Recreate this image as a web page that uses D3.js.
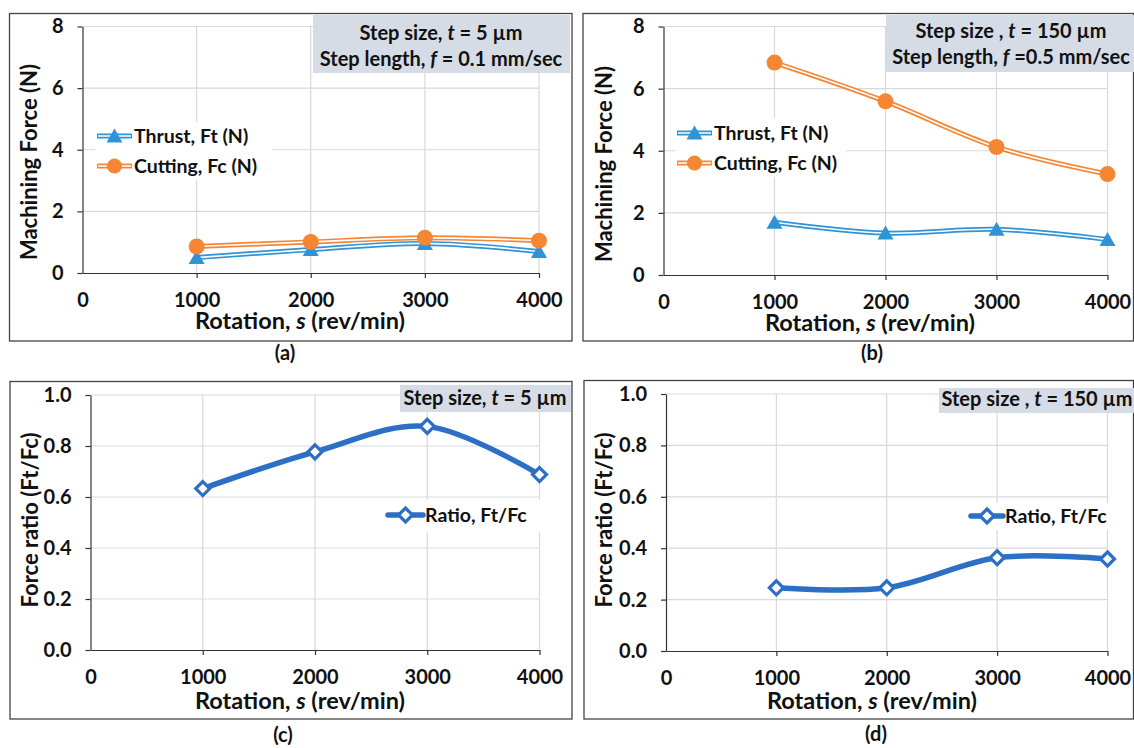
<!DOCTYPE html>
<html>
<head>
<meta charset="utf-8">
<title>Machining force and force ratio vs rotation</title>
<style>
  body { margin: 0; padding: 0; background: #fff; }
  svg text { font-family: Lato, "Open Sans", sans-serif; font-weight: bold; fill: #111; }
</style>
</head>
<body>
<svg width="1134" height="748"></svg>
<script src="https://d3js.org/d3.v7.min.js"></script>
<script>

// data
var rotation = [1000, 2000, 3000, 4000]
var xTicks = [0, 1000, 2000, 3000, 4000]
var forceTicks = [0, 2, 4, 6, 8]
var ratioTicks = [0, 0.2, 0.4, 0.6, 0.8, 1.0]

var thrustA = [0.50, 0.76, 0.96, 0.70]
var cuttingA = [0.86, 1.01, 1.14, 1.05]
var thrustB = [1.70, 1.35, 1.47, 1.14]
var cuttingB = [6.84, 5.59, 4.12, 3.25]
var ratioC = [0.633, 0.777, 0.877, 0.688]
var ratioD = [0.246, 0.246, 0.363, 0.358]

var thrustColor = "#2f93d5"
var cuttingColor = "#f58634"
var ratioColor = "#2d6fc4"
var boxFill = "#d6dce5"

var svg = d3.select("svg")

var triangle = "M0,-7.5L8,6.5L-8,6.5Z"
var diamond = "M0,-7L7,0L0,7L-7,0Z"

function rich(sel, parts) {
  parts.forEach(p => {
    sel.append("tspan").text(p[0]).style("font-style", p[1] ? "italic" : "normal")
  })
}

function drawPanel(p) {
  var g = svg.append("g")

  g.append("rect")
    .attr("x", p.frame[0]).attr("y", p.frame[1])
    .attr("width", p.frame[2] - p.frame[0]).attr("height", p.frame[3] - p.frame[1])
    .attr("fill", "none").attr("stroke", "#444").attr("stroke-width", 1.3)

  var x = d3.scaleLinear().domain([0, 4000]).range([p.x0, p.x4])
  var y = d3.scaleLinear().domain([0, p.yTicks[p.yTicks.length - 1]]).range([p.y0, p.yTop])

  // grid
  g.selectAll("line.vgrid").data(xTicks.slice(1)).enter().append("line")
    .attr("x1", d => x(d)).attr("x2", d => x(d))
    .attr("y1", y.range()[0]).attr("y2", y.range()[1])
    .attr("stroke", "#d9d9d9").attr("stroke-width", 1.2)
  g.selectAll("line.hgrid").data(p.yTicks.slice(1)).enter().append("line")
    .attr("x1", x(0)).attr("x2", x(4000))
    .attr("y1", d => y(d)).attr("y2", d => y(d))
    .attr("stroke", "#d9d9d9").attr("stroke-width", 1.2)

  var xAxis = g.append("g").attr("transform", "translate(0," + p.y0 + ")")
    .call(d3.axisBottom(x).tickValues(xTicks).tickSize(5).tickSizeOuter(0).tickPadding(15).tickFormat(d3.format("d")))
  var yAxis = g.append("g").attr("transform", "translate(" + p.x0 + ",0)")
    .call(d3.axisLeft(y).tickValues(p.yTicks).tickSize(5).tickSizeOuter(0).tickPadding(14).tickFormat(p.fmt))
  ;[xAxis, yAxis].forEach(a => {
    a.selectAll("path, line").attr("stroke", "#333").attr("stroke-width", 1.2)
    a.selectAll("text").style("font-size", "20px").attr("fill", "#111")
      .style("font-family", "Lato, sans-serif").style("font-weight", "bold")
  })
  xAxis.select(".tick line").remove()

  // info box
  g.append("rect")
    .attr("x", p.box[0]).attr("y", p.box[1])
    .attr("width", p.box[2] - p.box[0]).attr("height", p.box[3] - p.box[1])
    .attr("fill", boxFill)
  p.boxText.forEach((line, i) => {
    var t = g.append("text").attr("x", p.boxCx).attr("y", p.boxBase[i])
      .attr("text-anchor", "middle").style("font-size", "20px")
    rich(t, line)
  })

  // legend
  g.append("rect")
    .attr("x", p.legBg[0]).attr("y", p.legBg[1])
    .attr("width", p.legBg[2] - p.legBg[0]).attr("height", p.legBg[3] - p.legBg[1])
    .attr("fill", "#fff")

  var line = d3.line().x((d, i) => x(rotation[i])).y(d => y(d)).curve(d3.curveCardinal.tension(0))

  p.series.forEach((s, k) => {
    var ly = p.legY[k]
    var lx0 = p.legX[0], lx1 = p.legX[1]
    if (s.kind === "double") {
      g.append("path").attr("d", line(s.values)).attr("fill", "none")
        .attr("stroke", s.color).attr("stroke-width", 5)
      g.append("path").attr("d", line(s.values)).attr("fill", "none")
        .attr("stroke", "#fff").attr("stroke-width", 1.6)
      if (s.marker === "circle") {
        g.selectAll(null).data(s.values).enter().append("circle")
          .attr("cx", (d, i) => x(rotation[i])).attr("cy", d => y(d)).attr("r", 8)
          .attr("fill", s.color)
      } else {
        g.selectAll(null).data(s.values).enter().append("path")
          .attr("transform", (d, i) => "translate(" + x(rotation[i]) + "," + y(d) + ")")
          .attr("d", triangle).attr("fill", s.color)
      }
      // legend entry
      g.append("line").attr("x1", lx0).attr("x2", lx1).attr("y1", ly).attr("y2", ly)
        .attr("stroke", s.color).attr("stroke-width", 5)
      g.append("line").attr("x1", lx0 + 1).attr("x2", lx1 - 1).attr("y1", ly).attr("y2", ly)
        .attr("stroke", "#fff").attr("stroke-width", 1.6)
      if (s.marker === "circle") {
        g.append("circle").attr("cx", (lx0 + lx1) / 2).attr("cy", ly).attr("r", 7.5).attr("fill", s.color)
      } else {
        g.append("path").attr("d", triangle).attr("fill", s.color)
          .attr("transform", "translate(" + (lx0 + lx1) / 2 + "," + ly + ")")
      }
    } else {
      g.append("path").attr("d", line(s.values)).attr("fill", "none")
        .attr("stroke", s.color).attr("stroke-width", 5.5).attr("stroke-linecap", "round")
      g.selectAll(null).data(s.values).enter().append("path")
        .attr("transform", (d, i) => "translate(" + x(rotation[i]) + "," + y(d) + ")")
        .attr("d", diamond).attr("fill", "#fff").attr("stroke", s.color).attr("stroke-width", 3.2)
      g.append("line").attr("x1", lx0).attr("x2", lx1).attr("y1", ly).attr("y2", ly)
        .attr("stroke", s.color).attr("stroke-width", 5.5).attr("stroke-linecap", "round")
      g.append("path").attr("d", diamond).attr("fill", "#fff").attr("stroke", s.color).attr("stroke-width", 3.2)
        .attr("transform", "translate(" + (lx0 + lx1) / 2 + "," + ly + ")")
    }
    g.append("text").attr("x", lx1 + 2).attr("y", ly + 6.5).style("font-size", "19.5px").text(s.name)
  })

  // axis titles
  var xt = g.append("text").attr("x", p.xTitle[0]).attr("y", p.xTitle[1])
    .attr("text-anchor", "middle").style("font-size", "23.5px")
  rich(xt, [["Rotation, ", false], ["s", true], [" (rev/min)", false]])

  g.append("text")
    .attr("transform", "translate(" + p.yTitle[0] + "," + p.yTitle[1] + ") rotate(-90)")
    .attr("text-anchor", "middle").style("font-size", "22px").text(p.yLabel)

  g.append("text").attr("x", p.tag[0]).attr("y", p.tag[1])
    .attr("text-anchor", "middle").style("font-size", "20px").text(p.tagText)
}

drawPanel({
  frame: [9.5, 13.5, 572, 341], x0: 82.5, x4: 539, y0: 273, yTop: 26.5,
  yTicks: forceTicks, fmt: d3.format("d"), yLabel: "Machining Force (N)",
  box: [313, 15, 570, 73], boxCx: 441, boxBase: [40, 66],
  boxText: [[["Step size, ", false], ["t", true], [" = 5 µm", false]],
            [["Step length, ", false], ["f", true], [" = 0.1 mm/sec", false]]],
  legBg: [95, 122, 272, 180], legX: [97, 132], legY: [136, 166],
  series: [
    {name: "Thrust, Ft (N)", values: thrustA, color: thrustColor, kind: "double", marker: "triangle"},
    {name: "Cutting, Fc (N)", values: cuttingA, color: cuttingColor, kind: "double", marker: "circle"}
  ],
  xTitle: [300, 329], yTitle: [37, 162], tag: [285, 360], tagText: "(a)"
})

drawPanel({
  frame: [583, 13.5, 1133.5, 341], x0: 663.5, x4: 1107.5, y0: 275, yTop: 26.5,
  yTicks: forceTicks, fmt: d3.format("d"), yLabel: "Machining Force (N)",
  box: [886, 15, 1134, 72], boxCx: 1011, boxBase: [38, 64],
  boxText: [[["Step size , ", false], ["t", true], [" = 150 µm", false]],
            [["Step length, ", false], ["f", true], [" =0.5 mm/sec", false]]],
  legBg: [675, 118, 846, 177], legX: [677, 712], legY: [133, 163],
  series: [
    {name: "Thrust, Ft (N)", values: thrustB, color: thrustColor, kind: "double", marker: "triangle"},
    {name: "Cutting, Fc (N)", values: cuttingB, color: cuttingColor, kind: "double", marker: "circle"}
  ],
  xTitle: [870, 331], yTitle: [612, 164], tag: [872, 360], tagText: "(b)"
})

drawPanel({
  frame: [10, 381.5, 572, 719], x0: 90.5, x4: 539.5, y0: 650, yTop: 395,
  yTicks: ratioTicks, fmt: d3.format(".1f"), yLabel: "Force ratio (Ft/Fc)",
  box: [400, 385, 571, 412], boxCx: 485, boxBase: [405],
  boxText: [[["Step size, ", false], ["t", true], [" = 5 µm", false]]],
  legBg: [385, 500, 545, 532], legX: [388, 423], legY: [515],
  series: [
    {name: "Ratio, Ft/Fc", values: ratioC, color: ratioColor, kind: "single"}
  ],
  xTitle: [300, 709], yTitle: [38, 520], tag: [283, 742], tagText: "(c)"
})

drawPanel({
  frame: [584, 380.5, 1133.5, 719], x0: 666, x4: 1107.5, y0: 651, yTop: 394,
  yTicks: ratioTicks, fmt: d3.format(".1f"), yLabel: "Force ratio (Ft/Fc)",
  box: [939, 388, 1134, 413], boxCx: 1037, boxBase: [406],
  boxText: [[["Step size , ", false], ["t", true], [" = 150 µm", false]]],
  legBg: [968, 503, 1110, 530], legX: [971, 1003], legY: [516],
  series: [
    {name: "Ratio, Ft/Fc", values: ratioD, color: ratioColor, kind: "single"}
  ],
  xTitle: [872, 709], yTitle: [612, 520], tag: [876, 741], tagText: "(d)"
})

</script>
</body>
</html>
